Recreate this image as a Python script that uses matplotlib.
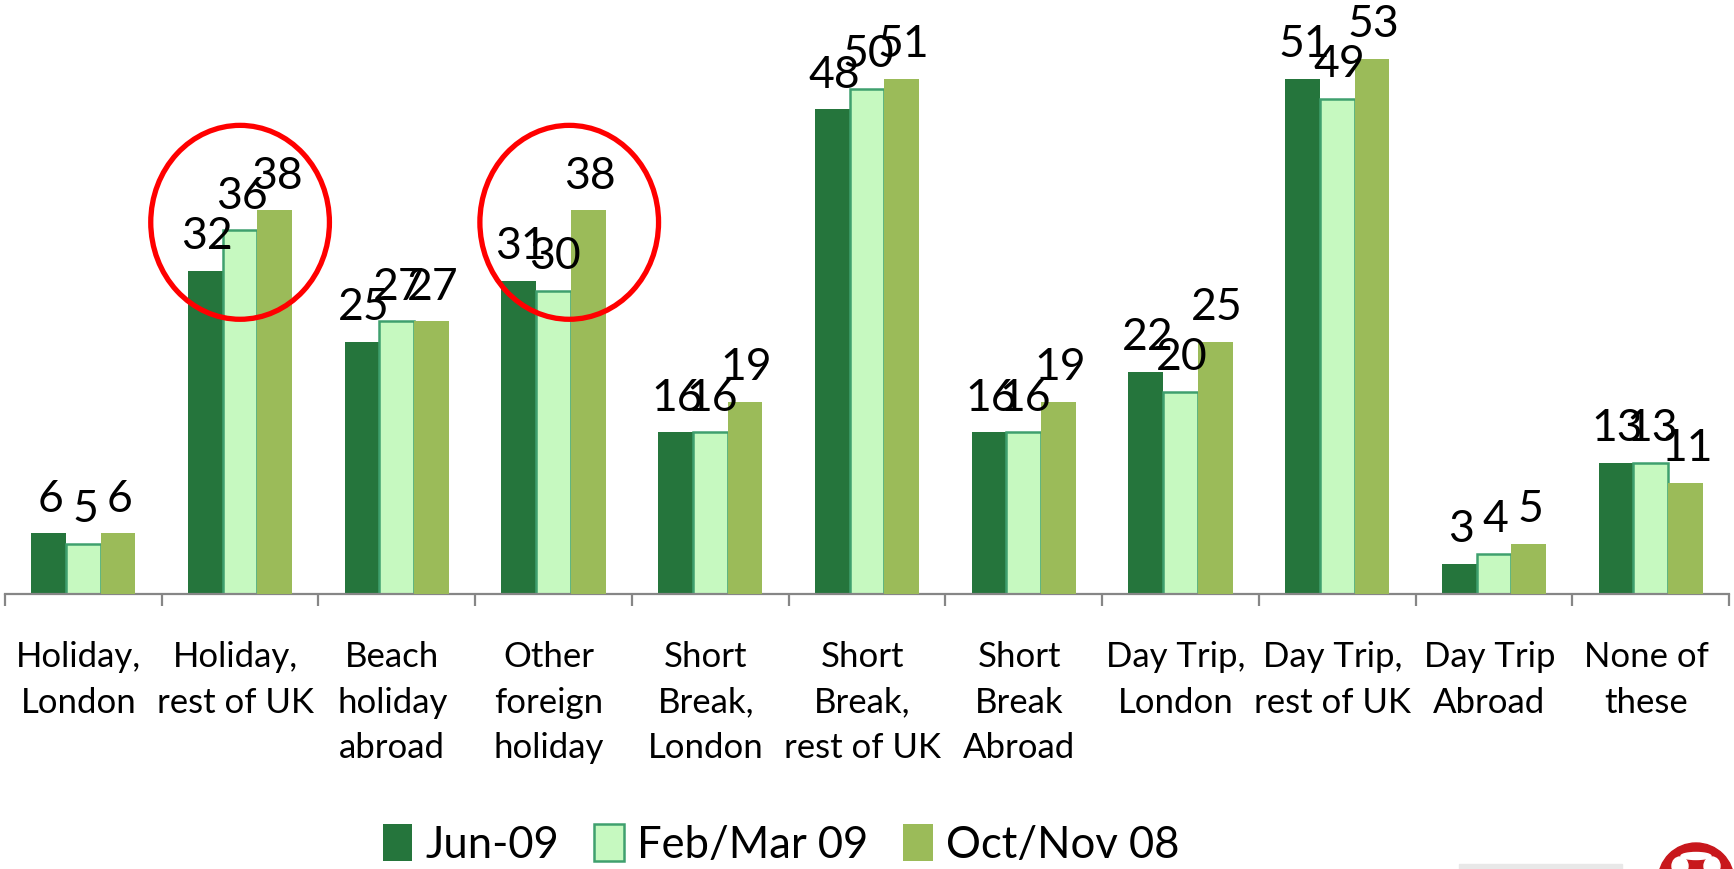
import numpy as np
import matplotlib
matplotlib.use('Agg')
import matplotlib.pyplot as plt
from matplotlib.patches import Ellipse, Rectangle
from matplotlib.transforms import ScaledTranslation

categories = ['Holiday,\nLondon', 'Holiday,\nrest of UK', 'Beach\nholiday\nabroad', 'Other\nforeign\nholiday',
              'Short\nBreak,\nLondon', 'Short\nBreak,\nrest of UK', 'Short\nBreak\nAbroad', 'Day Trip,\nLondon',
              'Day Trip,\nrest of UK', 'Day Trip\nAbroad', 'None of\nthese']
jun09 = [6, 32, 25, 31, 16, 48, 16, 22, 51, 3, 13]
feb09 = [5, 36, 27, 30, 16, 50, 16, 20, 49, 4, 13]
oct08 = [6, 38, 27, 38, 19, 51, 19, 25, 53, 5, 11]

plt.rcParams['font.family'] = ['Lato', 'DejaVu Sans']

W, H = 1734, 869
base = 594
px_per_unit = 10.1

fig = plt.figure(figsize=(W / 100, H / 100), dpi=100)
ax = fig.add_axes([5 / W, (H - base) / H, 1724 / W, base / H])
x = np.arange(len(categories))
w = 0.2214

b1 = ax.bar(x - w, jun09, w, color='#25753C', label='Jun-09', zorder=2)
b2 = ax.bar(x, feb09, w, color='#C6F9C0', edgecolor='#3FA06E', linewidth=1.8, label='Feb/Mar 09', zorder=2)
b3 = ax.bar(x + w, oct08, w, color='#9BBB59', label='Oct/Nov 08', zorder=3)

for b in (b1, b2, b3):
    for t in ax.bar_label(b, padding=16, fontsize=32, color='black', zorder=5):
        t.set_verticalalignment('baseline')
        t.xyann = (1.2, 15.6)

ax.set_xlim(-0.5, 10.5)
ax.set_ylim(0, base / px_per_unit)

for s in ('top', 'left', 'right'):
    ax.spines[s].set_visible(False)
ax.spines['bottom'].set_color('#868686')
ax.spines['bottom'].set_linewidth(1.6)
ax.set_yticks([])
ax.set_xticks(np.arange(-0.5, 11, 1))
ax.set_xticklabels([])
ax.tick_params(axis='x', which='major', length=8.5, width=1.6, color='#868686')
ax.set_xticks(x, minor=True)
ax.set_xticklabels(categories, minor=True, fontsize=25, linespacing=1.52)
ax.tick_params(axis='x', which='minor', length=0, pad=34)
for lab in ax.get_xticklabels(minor=True):
    lab.set_transform(lab.get_transform() + ScaledTranslation(-3.2 / 72, 0, fig.dpi_scale_trans))

# red rings around the two highlighted groups
for cx in (1.0, 3.10):
    ax.add_patch(Ellipse((cx, 36.8), 1.14, 19.2, fill=False, edgecolor='#FF0000', linewidth=3.8, zorder=6))

fig.legend(loc='center', bbox_to_anchor=(781 / W, (H - 845) / H), ncol=3, frameon=False, fontsize=31.4,
           handlelength=0.68, handleheight=0.9, handletextpad=0.3, columnspacing=0.8, borderpad=0)

# cropped bits at the bottom right corner
fig.add_artist(Rectangle((1459 / W, 0), 163 / W, 5 / H, transform=fig.transFigure, color='#E8E8E8'))
fig.add_artist(Ellipse((1696 / W, -12 / H), 76 / W, 76 / H, transform=fig.transFigure, color='#C8171C'))
fig.add_artist(Ellipse((1680 / W, 3 / H), 16 / W, 18 / H, transform=fig.transFigure, color='white'))
fig.add_artist(Ellipse((1712 / W, 3 / H), 16 / W, 18 / H, transform=fig.transFigure, color='white'))
fig.add_artist(Ellipse((1696 / W, 13 / H), 30 / W, 7 / H, transform=fig.transFigure, color='white'))

fig.savefig('out.png', dpi=100)
